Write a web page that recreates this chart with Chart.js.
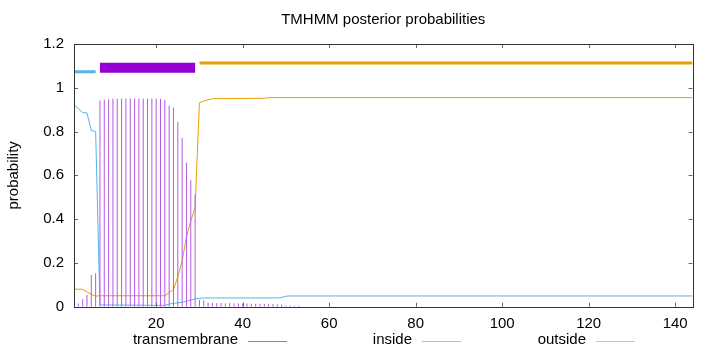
<!DOCTYPE html>
<html>
<head>
<meta charset="utf-8">
<script src="https://cdn.jsdelivr.net/npm/chart.js@4"></script>
<style>
  html, body { margin: 0; padding: 0; background: #fff; }
</style>
</head>
<body>
<canvas id="myChart" width="720" height="352"></canvas>
<script>
// residue numbers and transmembrane probability (impulses)
var tmRes = [1,2,3,4,5,6,7,8,9,10,11,12,13,14,15,16,17,18,19,20,21,22,23,24,25,26,27,28,29,30,
             31,32,33,34,35,36,37,38,39,40,41,42,43,44,45,46,47,48,49,50,51,52,53];
var tmProb = [0.002,0.015,0.034,0.054,0.145,0.153,0.942,0.945,0.948,0.950,0.950,0.951,0.951,0.951,0.951,
              0.951,0.951,0.950,0.950,0.950,0.950,0.944,0.918,0.910,0.845,0.771,0.657,0.578,0.512,0.031,
              0.028,0.018,0.018,0.017,0.017,0.016,0.016,0.016,0.015,0.015,0.015,0.014,0.014,0.013,0.013,
              0.012,0.012,0.011,0.010,0.007,0.006,0.005,0.004];

// inside probability
var inRes  = [1,2,3,4,5,6,7,22,23,24,25,26,27,28,29,30,31,48,49,50,51,144];
var inProb = [0.922,0.905,0.887,0.885,0.805,0.800,0.008,0.006,0.012,0.015,0.018,0.020,0.025,0.030,0.036,0.038,0.040,0.040,0.042,0.048,0.049,0.049];

// outside probability
var outRes  = [1,2,3,4,5,6,7,22,23,24,25,26,27,28,29,30,31,32,33,45,46,144];
var outProb = [0.080,0.080,0.079,0.068,0.056,0.048,0.050,0.050,0.065,0.078,0.137,0.210,0.318,0.392,0.452,0.931,0.940,0.945,0.950,0.952,0.955,0.955];

// predicted topology bars above the plot
var segStart = [1, 7, 30];
var segEnd   = [6, 29, 144];
var segLevel = [1.073, 1.092, 1.113];

var xTicks = [20, 40, 60, 80, 100, 120, 140];
var yTicks = [0, 0.2, 0.4, 0.6, 0.8, 1, 1.2];
var seriesNames = ["transmembrane", "inside", "outside"];
var purple = "#9400d3", blue = "#56b4e9", orange = "#e69f00";
var keyColors = ["#b664e6", "#8ccdf0", "#efc060"];

function pts(xs, ys) {
  return xs.map(function (x, i) { return { x: x, y: ys[i] }; });
}

var FONT = "'Liberation Sans', Arial, sans-serif";

// gnuplot-like border, inward tics and legend below
var gnuPlot = {
  id: "gnuPlot",
  afterDraw: function (chart) {
    var ctx = chart.ctx, a = chart.chartArea;
    var xs = chart.scales.x, ys = chart.scales.y;
    ctx.save();
    ctx.strokeStyle = "#666";
    ctx.lineWidth = 1;
    ctx.beginPath();
    xTicks.forEach(function (v) {
      var px = Math.round(xs.getPixelForValue(v)) + 0.5;
      ctx.moveTo(px, a.bottom); ctx.lineTo(px, a.bottom - 4);
      ctx.moveTo(px, a.top); ctx.lineTo(px, a.top + 4);
    });
    yTicks.forEach(function (v) {
      var py = Math.round(ys.getPixelForValue(v)) + 0.5;
      ctx.moveTo(a.left, py); ctx.lineTo(a.left + 4, py);
      ctx.moveTo(a.right, py); ctx.lineTo(a.right - 4, py);
    });
    ctx.stroke();
    ctx.strokeStyle = "#333";
    ctx.strokeRect(Math.round(a.left) + 0.5, Math.round(a.top) + 0.5,
                   Math.round(a.right - a.left), Math.round(a.bottom - a.top));

    // legend: text then line sample, gnuplot style
    ctx.font = "15px " + FONT;
    ctx.textAlign = "right";
    ctx.textBaseline = "middle";
    var y = 341;
    for (var i = 0; i < seriesNames.length; i++) {
      var lineEnd = 287 + i * 174;
      ctx.fillStyle = "#000";
      ctx.fillText(seriesNames[i], lineEnd - 49, y - 1);
      ctx.beginPath();
      ctx.strokeStyle = keyColors[i];
      ctx.lineWidth = 1;
      ctx.moveTo(lineEnd - 39, y + 0.5);
      ctx.lineTo(lineEnd, y + 0.5);
      ctx.stroke();
    }
    ctx.restore();
  }
};

var segColors = [blue, purple, orange];
var segWidths = [3, 10, 3];
var segDatasets = segStart.map(function (s, i) {
  return {
    type: "line",
    data: [{ x: s, y: segLevel[i] }, { x: segEnd[i], y: segLevel[i] }],
    borderColor: segColors[i],
    borderWidth: segWidths[i],
    borderCapStyle: "butt",
    pointRadius: 0,
    fill: false
  };
});

new Chart("myChart", {
  type: "bar",
  data: {
    datasets: [{
      type: "bar",
      label: seriesNames[0],
      data: pts(tmRes, tmProb),
      backgroundColor: "#b45ae6",
      barThickness: 1,
      inflateAmount: 0,
      borderWidth: 0
    }, {
      type: "line",
      label: seriesNames[1],
      data: pts(inRes, inProb),
      borderColor: blue,
      borderWidth: 1,
      pointRadius: 0,
      tension: 0,
      fill: false
    }, {
      type: "line",
      label: seriesNames[2],
      data: pts(outRes, outProb),
      borderColor: orange,
      borderWidth: 1,
      pointRadius: 0,
      tension: 0,
      fill: false
    }].concat(segDatasets)
  },
  options: {
    responsive: false,
    animation: false,
    layout: { padding: { top: 5, right: 27.5, bottom: 22, left: 0 } },
    plugins: {
      legend: { display: false },
      tooltip: { enabled: false },
      title: {
        display: true,
        text: "TMHMM posterior probabilities",
        fullSize: false,
        color: "#000",
        font: { family: FONT, size: 15, weight: "normal" },
        padding: { top: 6, bottom: 15 }
      }
    },
    scales: {
      x: {
        type: "linear",
        offset: false,
        min: 1,
        max: 144,
        grid: { display: false, drawTicks: false },
        border: { display: false },
        afterBuildTicks: function (scale) {
          scale.ticks = xTicks.map(function (v) { return { value: v }; });
        },
        afterFit: function (scale) { scale.height = 23.3; },
        ticks: { color: "#000", padding: 8, maxRotation: 0, font: { family: FONT, size: 15 } }
      },
      y: {
        min: 0,
        max: 1.2,
        grid: { display: false, drawTicks: false },
        border: { display: false },
        afterBuildTicks: function (scale) {
          scale.ticks = yTicks.map(function (v) { return { value: v }; });
        },
        afterFit: function (scale) { scale.width = 74; },
        ticks: {
          color: "#000", padding: 10, font: { family: FONT, size: 15 },
          callback: function (v) { return String(+v.toFixed(1)); }
        },
        title: {
          display: true,
          text: "probability",
          color: "#000",
          font: { family: FONT, size: 15 },
          padding: { top: 5 }
        }
      }
    }
  },
  plugins: [gnuPlot]
});
</script>
</body>
</html>
